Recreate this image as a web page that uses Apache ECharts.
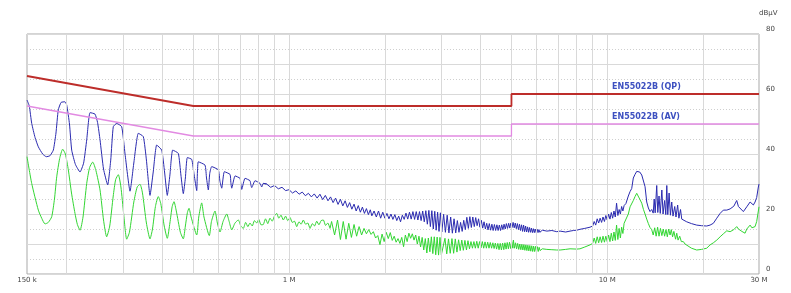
<!DOCTYPE html>
<html><head><meta charset="utf-8">
<script src="https://cdn.jsdelivr.net/npm/echarts@6.0.0/dist/echarts.min.js"></script>
<style>html,body{margin:0;padding:0;background:#fff}#c{width:791px;height:293px}</style>
</head><body><div id="c"></div>
<script>
// ---- axis / grid values ----
const gridFreqs = [0.2,0.3,0.4,0.5,0.6,0.7,0.8,0.9,1,2,3,4,5,6,7,8,9,10,20];
const yLabelValues = [0,20,40,60,80];
const limitNames = ['EN55022B (QP)', 'EN55022B (AV)'];

// ---- limit lines (MHz, dBµV) ----
const qpLimit = [[0.15,66],[0.5,56],[5,56],[5,60],[30,60]];
const avLimit = [[0.15,56],[0.5,46],[5,46],[5,50],[30,50]];

// ---- peak trace (blue) ----
const peakLobes = [[0.150,58.0],[0.1525,56.0],[0.1552,50.2],[0.1590,45.5],[0.1628,42.4],[0.1680,40.0],[0.1725,39.1],[0.1770,39.4],[0.1815,41.3],[0.1850,47.0],[0.1881,54.7],[0.1920,57.2],[0.1975,57.4],[0.2000,56.3],[0.2040,50.0],[0.2073,41.3],[0.2130,36.5],[0.2202,34.0],[0.2260,37.0],[0.2311,44.7],[0.2367,53.8],[0.2454,53.3],[0.2500,50.5],[0.2545,44.7],[0.2610,35.0],[0.2690,29.7],[0.2750,38.0],[0.2801,49.1],[0.2871,50.2],[0.2977,49.1],[0.3050,40.0],[0.3162,27.6],[0.3250,37.0],[0.3357,46.9],[0.3481,45.8],[0.3560,38.0],[0.3654,26.2],[0.3740,34.0],[0.3835,43.0],[0.3977,41.3],[0.4060,34.0],[0.4141,26.2],[0.4220,33.0],[0.4306,41.3],[0.4485,40.2],[0.4570,33.0],[0.4650,26.8],[0.4720,32.0],[0.4787,38.8],[0.4942,38.2],[0.5030,33.0],[0.5124,27.8],[0.5183,37.4],[0.5441,36.3],[0.5500,32.0],[0.5573,28.0],[0.5630,33.5],[0.5711,35.8],[0.5991,34.7],[0.6060,31.0],[0.6141,28.6],[0.6258,34.1],[0.6522,33.2],[0.6560,30.5],[0.6602,28.6],[0.6762,32.7],[0.7011,31.9],[0.7050,30.0],[0.7097,28.2],[0.7268,31.9],[0.7535,31.1],[0.7580,29.8],[0.7629,28.8],[0.7814,31.1],[0.8102,30.2],[0.8201,29.0],[0.8298,30.2]];
const peakRipple = [[0.850,30.0],[0.875,28.9],[0.900,29.5],[0.925,28.4],[0.950,28.9],[0.975,27.8],[1.000,28.1],[1.025,27.0],[1.050,27.7],[1.075,26.6],[1.100,27.3],[1.125,26.1],[1.150,26.9],[1.175,25.7],[1.200,26.7],[1.225,25.3],[1.250,26.6],[1.275,24.8],[1.300,26.2],[1.325,24.4],[1.350,25.7],[1.375,23.8],[1.400,25.3],[1.425,23.2],[1.450,24.9],[1.475,22.7],[1.500,24.4],[1.525,22.2],[1.550,23.8],[1.575,21.6],[1.600,23.3],[1.625,21.0],[1.650,22.8],[1.675,20.6],[1.700,22.3],[1.725,20.2],[1.750,21.8],[1.775,19.8],[1.800,21.4]];
const peakFuzzA = [[1.82,19.4],[1.85,21.0],[1.88,19.0],[1.91,21.0],[1.94,18.6],[1.97,20.6],[2.00,18.6],[2.03,20.2],[2.06,18.4],[2.09,20.0],[2.12,18.2],[2.15,19.8],[2.18,17.8],[2.21,19.3],[2.24,17.4],[2.27,19.6],[2.30,18.2],[2.33,20.3],[2.36,18.3],[2.39,20.6],[2.42,18.3],[2.45,20.8],[2.48,18.2],[2.51,20.8],[2.54,18.0],[2.57,20.8],[2.60,17.8],[2.63,21.0],[2.66,17.4],[2.69,21.1],[2.72,16.6],[2.75,21.2],[2.78,15.8],[2.81,21.1],[2.84,15.0],[2.87,20.9],[2.90,14.6],[2.93,20.6],[2.96,14.2],[2.99,20.4],[3.02,14.0]];
const peakFuzzB = [[3.06,19.9],[3.10,13.9],[3.14,19.6],[3.18,13.7],[3.22,19.0],[3.26,13.6],[3.30,18.4],[3.34,13.7],[3.38,17.8],[3.42,13.9],[3.46,17.2],[3.50,14.2],[3.54,17.9],[3.58,14.8],[3.62,18.9],[3.66,15.2],[3.70,19.1],[3.74,15.5],[3.78,19.0],[3.82,15.8],[3.86,18.8],[3.90,16.1],[3.94,18.4],[3.98,15.6],[4.02,17.9],[4.06,15.3],[4.10,17.4],[4.14,15.0],[4.18,16.9],[4.22,14.7],[4.26,16.8],[4.30,14.6],[4.34,16.6],[4.38,14.5],[4.42,16.5],[4.46,14.5],[4.50,16.4],[4.54,14.5],[4.58,16.3],[4.62,14.5],[4.66,16.4],[4.70,14.8],[4.74,16.6],[4.78,15.0],[4.82,16.8],[4.86,15.2],[4.90,16.9],[4.94,15.3],[4.98,17.0],[5.02,15.5],[5.06,17.2],[5.10,15.4],[5.14,17.0],[5.18,15.1],[5.22,16.8],[5.26,14.8],[5.30,16.6],[5.34,14.5],[5.38,16.4],[5.42,14.2],[5.46,16.3],[5.50,14.1],[5.54,16.0],[5.58,14.0],[5.62,15.7],[5.66,13.9],[5.70,15.5],[5.74,13.9],[5.78,15.3],[5.82,13.8],[5.86,15.1],[5.90,13.8],[5.94,15.0],[5.98,13.8],[6.02,14.9],[6.06,13.8],[6.10,14.8],[6.14,13.9]];
const peakHigh = [[6.25,14.6],[6.46,14.3],[6.70,14.5],[6.94,14.1],[7.11,14.3],[7.40,14.0],[7.64,14.3],[7.83,14.5],[8.02,14.6],[8.21,14.9],[8.50,15.2],[8.83,15.6],[9.00,16.0],[9.10,17.5],[9.20,16.3],[9.30,18.4],[9.40,17.0],[9.50,18.6],[9.60,17.2],[9.70,19.0],[9.80,17.5],[9.90,19.5],[10.00,18.0],[10.10,20.0],[10.20,18.3],[10.30,20.5],[10.40,18.6],[10.50,21.0],[10.60,19.0],[10.70,23.6],[10.80,19.5],[10.90,21.5],[11.00,20.0],[11.10,22.5],[11.20,21.0],[11.30,22.8],[11.45,23.5],[11.65,26.0],[11.80,27.5],[11.94,28.5],[12.08,32.0],[12.23,33.2],[12.38,34.2],[12.50,34.6],[12.65,34.0],[12.84,33.0],[13.00,31.0],[13.15,29.1],[13.31,24.0],[13.47,22.0],[13.63,20.8],[13.80,21.5],[13.95,20.3],[14.05,25.0],[14.15,20.4],[14.31,29.5],[14.42,20.5],[14.55,26.0],[14.68,20.2],[14.85,28.0],[14.98,20.0],[15.15,24.5],[15.28,19.8],[15.39,29.5],[15.50,19.8],[15.65,27.0],[15.80,19.6],[15.95,24.0],[16.10,19.3],[16.30,22.5],[16.45,19.0],[16.65,23.0],[16.80,18.6],[17.00,21.5],[17.15,18.3],[17.35,18.0],[17.78,17.4],[18.40,16.8],[19.11,16.3],[19.80,16.1],[20.55,16.0],[21.05,16.3],[21.56,16.9],[22.10,18.6],[22.64,20.2],[23.18,21.3],[23.76,21.3],[24.34,21.7],[24.63,22.0],[25.00,22.6],[25.53,24.5],[25.85,22.5],[26.15,21.9],[26.79,20.8],[27.12,20.8],[27.46,22.4],[28.13,24.0],[28.50,23.6],[28.80,23.0],[29.16,24.0],[29.50,25.5],[29.86,29.0],[30.00,30.0]];

// ---- average trace (green) ----
const avgLobes = [[0.150,39.1],[0.1552,30.2],[0.1628,21.3],[0.1670,18.5],[0.1709,16.7],[0.1750,17.2],[0.1794,19.1],[0.1830,25.0],[0.1860,32.4],[0.1900,38.5],[0.1942,41.6],[0.1980,40.0],[0.2023,34.7],[0.2070,27.0],[0.2123,20.2],[0.2160,16.5],[0.2202,14.6],[0.2250,19.0],[0.2311,30.2],[0.2360,35.5],[0.2414,37.3],[0.2470,34.5],[0.2545,28.0],[0.2610,18.0],[0.2670,12.4],[0.2730,16.0],[0.2800,26.0],[0.2850,31.5],[0.2905,33.1],[0.2960,29.0],[0.3020,20.0],[0.3087,11.6],[0.3150,14.0],[0.3250,24.0],[0.3330,29.0],[0.3399,29.9],[0.3460,27.0],[0.3560,17.0],[0.3654,11.7],[0.3720,15.0],[0.3800,22.5],[0.3880,25.8],[0.3950,23.5],[0.4050,16.0],[0.4141,11.9],[0.4220,17.0],[0.4290,22.5],[0.4347,24.1],[0.4420,21.0],[0.4550,14.0],[0.4650,11.7],[0.4720,16.0],[0.4790,20.5],[0.4846,21.9],[0.4920,19.0],[0.5124,13.0],[0.5200,19.0],[0.5312,23.7],[0.5400,19.0],[0.5613,12.8],[0.5700,17.5],[0.5849,21.0],[0.5950,17.0],[0.6065,14.0],[0.6200,17.5],[0.6368,20.0],[0.6480,17.5],[0.6602,14.7]];
const avgRipple = [[0.676,17.0],[0.6925,18.0],[0.705,16.0],[0.7179,15.2],[0.730,17.2],[0.742,15.8],[0.7535,17.0],[0.766,16.0],[0.778,17.8],[0.791,17.0],[0.803,18.2],[0.816,16.4],[0.8298,16.5],[0.843,18.4],[0.857,16.8],[0.8709,18.6],[0.885,17.6],[0.900,19.4],[0.9143,20.2],[0.928,18.6],[0.943,19.6],[0.9589,18.0],[0.975,19.3],[0.990,17.8],[1.0071,18.8],[1.023,17.2],[1.040,17.6],[1.0566,15.8],[1.074,17.4],[1.091,16.6],[1.1083,18.0],[1.127,16.6],[1.145,17.0],[1.1635,15.2],[1.183,16.8],[1.202,16.0],[1.2212,17.6],[1.241,16.4],[1.261,17.8],[1.2814,18.0],[1.302,16.2],[1.323,17.0],[1.3446,15.2]];
const avgFuzzA = [[1.36,17.5],[1.39,13.0],[1.42,18.0],[1.45,11.5],[1.48,17.5],[1.51,11.6],[1.54,16.9],[1.57,12.2],[1.60,16.5],[1.63,12.6],[1.66,15.8],[1.69,13.0],[1.72,15.2],[1.75,13.4],[1.78,14.8],[1.81,13.2],[1.84,14.1],[1.87,12.0],[1.90,12.8],[1.93,9.8],[1.96,13.3],[1.99,10.8],[2.02,13.9],[2.05,11.8],[2.08,13.8],[2.11,11.2],[2.14,12.6],[2.17,10.6],[2.20,11.8],[2.23,10.2],[2.26,12.2],[2.29,9.1],[2.32,13.0],[2.35,10.8],[2.38,13.6],[2.41,11.9],[2.44,13.4],[2.47,11.3],[2.50,13.0],[2.53,10.0],[2.56,12.6],[2.59,9.0],[2.62,12.2],[2.65,8.0],[2.68,11.8],[2.71,7.0],[2.74,12.0],[2.77,7.4],[2.80,12.4],[2.83,6.8],[2.86,12.4],[2.89,6.4],[2.92,12.3],[2.95,6.3],[2.98,12.2],[3.01,6.4]];
const avgFuzzB = [[3.05,6.5],[3.09,11.9],[3.13,6.7],[3.17,11.7],[3.21,6.9],[3.25,11.8],[3.29,6.9],[3.33,11.7],[3.37,7.3],[3.41,11.4],[3.45,7.8],[3.49,11.3],[3.53,7.9],[3.57,11.2],[3.61,8.0],[3.65,11.1],[3.69,8.4],[3.73,10.8],[3.77,8.6],[3.81,10.8],[3.85,8.6],[3.89,10.9],[3.93,8.6],[3.97,10.8],[4.01,8.7],[4.05,10.8],[4.09,8.6],[4.13,10.7],[4.17,8.6],[4.21,10.6],[4.25,8.6],[4.29,10.5],[4.33,8.6],[4.37,10.4],[4.41,8.5],[4.45,10.3],[4.49,8.3],[4.53,10.2],[4.57,8.1],[4.61,10.2],[4.65,8.0],[4.69,10.3],[4.73,8.1],[4.77,10.4],[4.81,8.3],[4.85,10.5],[4.89,8.4],[4.93,10.6],[4.97,8.5],[5.01,10.8],[5.05,8.6],[5.07,11.3],[5.11,8.6],[5.15,10.4],[5.19,8.4],[5.23,10.2],[5.27,8.2],[5.31,10.0],[5.35,8.1],[5.39,9.9],[5.43,8.0],[5.47,9.8],[5.51,7.9],[5.55,9.7],[5.59,7.8],[5.63,9.6],[5.67,7.7],[5.71,9.5],[5.75,7.6],[5.79,9.4],[5.83,7.5],[5.87,9.3],[5.91,7.5],[5.95,9.2],[5.99,7.4],[6.03,9.1],[6.07,7.5],[6.11,8.9],[6.15,7.8]];
const avgHigh = [[6.25,8.4],[6.46,8.2],[6.70,8.1],[6.94,8.0],[7.11,8.0],[7.40,8.2],[7.64,8.4],[8.02,8.3],[8.21,8.4],[8.50,9.0],[8.83,9.7],[9.00,10.2],[9.10,12.0],[9.20,10.2],[9.30,12.4],[9.40,10.4],[9.50,12.4],[9.60,10.5],[9.70,12.6],[9.80,10.6],[9.90,12.6],[10.00,10.8],[10.10,13.0],[10.20,10.8],[10.30,13.6],[10.40,11.0],[10.50,14.0],[10.60,11.2],[10.70,16.3],[10.80,11.5],[10.90,15.2],[11.00,12.0],[11.10,15.6],[11.20,13.5],[11.30,16.9],[11.45,17.0],[11.65,20.0],[11.80,22.4],[11.94,22.6],[12.08,24.5],[12.23,25.8],[12.38,26.9],[12.50,26.3],[12.65,25.0],[12.84,23.6],[13.00,21.5],[13.15,20.0],[13.31,18.3],[13.47,16.8],[13.63,15.5],[13.80,14.8],[13.95,13.0],[14.10,15.4],[14.25,12.6],[14.40,15.6],[14.55,12.6],[14.70,15.2],[14.85,12.8],[15.00,15.0],[15.15,12.6],[15.30,14.8],[15.45,12.4],[15.60,15.0],[15.76,13.0],[15.90,14.8],[16.05,12.4],[16.20,14.2],[16.40,11.6],[16.54,13.6],[16.70,11.3],[16.90,12.6],[17.10,10.8],[17.35,10.8],[17.56,10.0],[17.78,9.4],[18.40,8.6],[19.11,8.0],[19.80,8.2],[20.55,8.6],[21.05,9.7],[21.56,10.4],[22.10,11.3],[22.64,12.4],[23.18,13.4],[23.76,14.4],[24.34,14.1],[24.63,14.6],[25.00,14.8],[25.53,15.8],[25.85,15.0],[26.15,15.2],[26.50,14.2],[26.79,13.8],[27.12,13.6],[27.46,15.0],[28.13,16.3],[28.50,15.4],[28.80,15.6],[29.16,15.8],[29.50,17.5],[29.86,21.0],[30.00,22.4]];

// smooth low-frequency lobes; the dense harmonic region is drawn as a straight polyline
const peakSmoothPart = peakLobes.concat(peakRipple.slice(0, 1));
const peakSharpPart = peakLobes.slice(-1).concat(peakRipple, peakFuzzA, peakFuzzB, peakHigh);
const avgSmoothPart = avgLobes.concat(avgRipple);
const avgSharpPart = avgRipple.slice(-1).concat(avgFuzzA, avgFuzzB, avgHigh);

const FONT = 'DejaVu Sans';
const PEAK_COLOR = '#2b2bb0';
const AVG_COLOR = '#33d633';
const chart = echarts.init(document.getElementById('c'), null, {renderer: 'canvas'});
function traceSeries(name, data, color, smooth, z) {
  return {name, type: 'line', data, z, showSymbol: false, symbol: 'none', smooth,
          lineStyle: {color, width: 1}};
}
chart.setOption({
  animation: false,
  backgroundColor: '#ffffff',
  grid: {left: 27, right: 32, top: 34, bottom: 19, show: true, borderColor: '#a9a9a9', borderWidth: 1, backgroundColor: 'transparent'},
  xAxis: {
    type: 'log', logBase: 10, min: 0.15, max: 30,
    axisLine: {show: false}, axisTick: {show: false},
    splitLine: {show: false},
    axisLabel: {
      margin: 3, fontSize: 7, color: '#444', fontFamily: FONT,
      formatter: v => v < 0.5 ? '150 k' : (Math.round(v) + ' M')
    }
  },
  yAxis: {
    type: 'value', position: 'right', min: 0, max: 80, interval: 10,
    name: 'dBµV', nameLocation: 'end', nameGap: 17,
    nameTextStyle: {fontSize: 7, color: '#444', fontFamily: FONT, align: 'left', padding: [0, 0, 0, 0]},
    axisLine: {show: false}, axisTick: {show: false},
    axisLabel: {
      margin: 7, fontSize: 7, color: '#444', fontFamily: FONT, verticalAlign: 'bottom', padding: [0, 0, 1, 0],
      formatter: v => yLabelValues.indexOf(v) >= 0 ? String(v) : ''
    },
    splitLine: {show: true, lineStyle: {color: '#d9d9d9', width: 1}},
    minorTick: {show: false, splitNumber: 2},
    minorSplitLine: {show: true, lineStyle: {color: '#cfcfcf', width: 1, type: [1, 2]}}
  },
  series: [
    {
      name: 'grid', type: 'line', data: [], z: 1, silent: true,
      markLine: {
        silent: true, symbol: 'none', animation: false,
        label: {show: false},
        lineStyle: {color: '#d9d9d9', width: 1, type: 'solid'},
        data: gridFreqs.map(f => ({xAxis: f}))
      }
    },
    traceSeries('Average', avgSmoothPart, AVG_COLOR, 0.2, 3),
    traceSeries('Average', avgSharpPart, AVG_COLOR, false, 3),
    traceSeries('Peak', peakSmoothPart, PEAK_COLOR, 0.15, 4),
    traceSeries('Peak', peakSharpPart, PEAK_COLOR, false, 4),
    {
      name: limitNames[0], type: 'line', data: qpLimit, z: 5, showSymbol: false, symbol: 'none',
      lineStyle: {color: '#bd2d2a', width: 1.8},
      markPoint: {
        symbol: 'rect', symbolSize: 0, silent: true,
        label: {show: true, position: 'right', distance: 0, formatter: limitNames[0], color: '#3d50c0', fontSize: 8, fontWeight: 'bold', fontFamily: FONT},
        data: [{coord: [10.35, 62.3]}]
      }
    },
    {
      name: limitNames[1], type: 'line', data: avLimit, z: 5, showSymbol: false, symbol: 'none',
      lineStyle: {color: '#e28ae2', width: 1.3},
      markPoint: {
        symbol: 'rect', symbolSize: 0, silent: true,
        label: {show: true, position: 'right', distance: 0, formatter: limitNames[1], color: '#3d50c0', fontSize: 8, fontWeight: 'bold', fontFamily: FONT},
        data: [{coord: [10.35, 52.3]}]
      }
    }
  ]
});
</script></body></html>
